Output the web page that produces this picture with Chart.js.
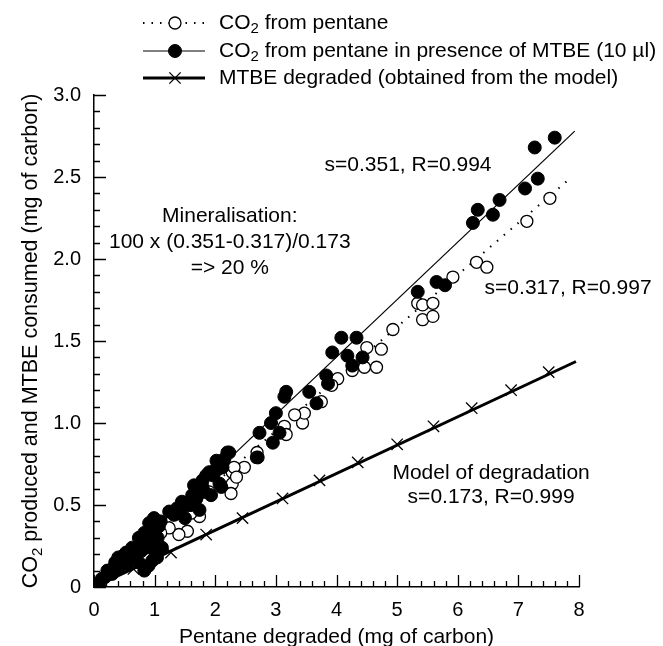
<!DOCTYPE html>
<html>
<head>
<meta charset="utf-8">
<script src="https://cdn.jsdelivr.net/npm/chart.js@4/dist/chart.umd.min.js"></script>
<style>
html,body{margin:0;padding:0;background:#fff;}
</style>
</head>
<body>
<canvas id="chart" width="663" height="646"></canvas>
<script>
// CO2 from pentane (open circles)
var openX = [7.52, 7.14, 6.31, 6.48, 5.92, 5.34, 5.42, 5.59, 5.42, 5.59, 4.93, 4.74, 4.66, 4.46, 4.26, 4.50,
  4.02, 3.92, 3.75, 3.44, 3.47, 3.31, 3.14, 3.17, 2.69, 2.68, 2.48, 2.28, 2.28, 2.26, 2.31, 2.35,
  1.74, 1.54, 1.40, 1.24, 1.60, 1.90, 1.10, 0.95, 0.70, 0.50, 0.30, 0];
var openY = [2.37, 2.23, 1.98, 1.95, 1.89, 1.73, 1.72, 1.73, 1.63, 1.65, 1.57, 1.45, 1.34, 1.34, 1.32, 1.46,
  1.27, 1.23, 1.13, 1.00, 1.06, 1.05, 0.98, 0.93, 0.82, 0.79, 0.73, 0.70, 0.63, 0.57, 0.73, 0.67,
  0.43, 0.34, 0.32, 0.36, 0.45, 0.58, 0.33, 0.30, 0.22, 0.15, 0.10, 0];

// CO2 from pentane in presence of MTBE (filled circles)
var filledX = [7.60, 7.27, 7.32, 7.11, 6.69, 6.33, 6.58, 6.25, 5.65, 5.79, 5.34,
  4.08, 4.33, 3.93, 4.18, 4.43, 4.26, 3.83, 3.86, 3.17, 3.14, 3.55, 3.67, 3.00, 2.92, 3.06, 2.73, 2.95, 2.70,
  2.23, 2.02, 2.12, 1.90, 1.79, 2.07, 2.20, 2.03, 1.85, 2.10, 1.79, 1.69, 1.93, 1.74, 1.37, 1.24,
  0.99, 0.91, 1.07, 0.83, 1.02, 0.74, 0.63, 0.86, 1.12, 0.53, 0.45, 0.83, 0.33, 0.25, 0.13, 0,
  1.04, 0.58, 0.74, 0.96, 1.50, 1.60, 1.45, 0.40, 0.70,
  0.10, 0.18, 0.22, 0.30, 0.35, 0.42, 0.48, 0.55, 0.60, 0.65, 0.78, 0.80, 0.88, 0.90, 0.95, 1.00,
  1.05, 1.10, 1.32, 1.42, 1.55, 1.62, 1.70, 1.82, 1.97, 2.05, 2.15, 1.65];
var filledY = [2.74, 2.68, 2.49, 2.43, 2.36, 2.30, 2.27, 2.22, 1.86, 1.84, 1.80,
  1.52, 1.52, 1.43, 1.41, 1.40, 1.35, 1.29, 1.24, 1.19, 1.16, 1.19, 1.12, 1.06, 1.00, 0.94, 0.94, 0.88, 0.79,
  0.82, 0.77, 0.73, 0.70, 0.65, 0.63, 0.82, 0.73, 0.68, 0.61, 0.61, 0.54, 0.56, 0.47, 0.48, 0.46,
  0.42, 0.39, 0.37, 0.33, 0.29, 0.30, 0.24, 0.24, 0.24, 0.21, 0.16, 0.10, 0.12, 0.085, 0.05, 0,
  0.18, 0.16, 0.15, 0.16, 0.42, 0.50, 0.52, 0.18, 0.20,
  0.03, 0.06, 0.10, 0.08, 0.15, 0.12, 0.19, 0.14, 0.21, 0.17, 0.22, 0.30, 0.27, 0.13, 0.34, 0.22,
  0.30, 0.40, 0.44, 0.48, 0.50, 0.56, 0.60, 0.58, 0.68, 0.72, 0.78, 0.62];

// MTBE degraded (model) crosses
var modelX = [0, 0.65, 1.27, 1.85, 2.45, 3.11, 3.72, 4.35, 5.00, 5.60, 6.23, 6.88, 7.50];
var modelY = [0, 0.11, 0.21, 0.32, 0.42, 0.54, 0.65, 0.76, 0.87, 0.98, 1.09, 1.20, 1.31];

// fitted lines (end points)
var fitOpenX = [0, 7.85], fitOpenY = [0, 2.49];
var fitFilledX = [0, 7.93], fitFilledY = [0, 2.78];
var fitModelX = [0, 7.95], fitModelY = [0, 1.375];

var xTickLabels = ['0', '1', '2', '3', '4', '5', '6', '7', '8'];
var yTickLabels = ['0', '0.5', '1.0', '1.5', '2.0', '2.5', '3.0'];

var legendLabels = ['CO₂ from pentane', 'CO₂ from pentane in presence of MTBE (10 µl)', 'MTBE degraded (obtained from the model)'];

var noteTexts = ['s=0.351, R=0.994', 'Mineralisation:', '100 x (0.351-0.317)/0.173', '=> 20 %',
  's=0.317, R=0.997', 'Model of degradation', 's=0.173, R=0.999'];
var noteX = [5.18, 2.24, 2.24, 2.24, 7.82, 6.55, 6.55];
var noteY = [2.573, 2.26, 2.10, 1.945, 1.823, 0.695, 0.55];

var FONT = '"Liberation Sans", Arial, sans-serif';
var FS = 21;

function pts(xs, ys) {
  return xs.map(function (x, i) { return {x: x, y: ys[i]}; });
}

// draw text, rendering ₂ as a real subscript
function drawSub(ctx, text, x, y, size, align) {
  var parts = text.split('₂');
  var big = size + 'px ' + FONT, small = Math.round(size * 0.7) + 'px ' + FONT;
  var w = 0;
  parts.forEach(function (p, i) {
    ctx.font = big; w += ctx.measureText(p).width;
    if (i < parts.length - 1) { ctx.font = small; w += ctx.measureText('2').width; }
  });
  var cx = align === 'center' ? x - w / 2 : x;
  ctx.textAlign = 'left';
  ctx.textBaseline = 'middle';
  parts.forEach(function (p, i) {
    ctx.font = big; ctx.fillText(p, cx, y); cx += ctx.measureText(p).width;
    if (i < parts.length - 1) {
      ctx.font = small; ctx.fillText('2', cx, y + size * 0.3); cx += ctx.measureText('2').width;
    }
  });
}

function marker(ctx, kind, x, y) {
  ctx.save();
  ctx.strokeStyle = '#000';
  ctx.setLineDash([]);
  if (kind === 'open' || kind === 'filled') {
    ctx.beginPath();
    ctx.arc(x, y, kind === 'open' ? 6 : 6.5, 0, Math.PI * 2);
    ctx.fillStyle = kind === 'open' ? '#fff' : '#000';
    ctx.fill();
    ctx.lineWidth = kind === 'open' ? 1.3 : 1;
    ctx.stroke();
  } else {
    var r = 8 * Math.SQRT1_2;
    ctx.lineWidth = 1.3;
    ctx.beginPath();
    ctx.moveTo(x - r, y - r); ctx.lineTo(x + r, y + r);
    ctx.moveTo(x - r, y + r); ctx.lineTo(x + r, y - r);
    ctx.stroke();
  }
  ctx.restore();
}

var overlay = {
  id: 'overlay',
  afterDraw: function (chart) {
    var ctx = chart.ctx, xs = chart.scales.x, ys = chart.scales.y;
    var area = chart.chartArea;
    ctx.save();
    ctx.strokeStyle = '#000';
    ctx.lineWidth = 1.3;
    // inward ticks
    ctx.beginPath();
    for (var i = 0; i <= 40; i++) {
      var px = Math.round(xs.getPixelForValue(i / 5)) + 0.5;
      var len = i % 5 === 0 ? 12 : 6;
      ctx.moveTo(px, area.bottom); ctx.lineTo(px, area.bottom - len);
    }
    for (var j = 0; j <= 30; j++) {
      var py = Math.round(ys.getPixelForValue(j / 10)) + 0.5;
      var l2 = j % 5 === 0 ? 12 : 6;
      ctx.moveTo(area.left, py); ctx.lineTo(area.left + l2, py);
    }
    ctx.stroke();

    ctx.fillStyle = '#000';
    // y title
    ctx.save();
    ctx.translate(31, 341);
    ctx.rotate(-Math.PI / 2);
    drawSub(ctx, 'CO₂ produced and MTBE consumed (mg of carbon)', 0, 0, 21.5, 'center');
    ctx.restore();

    // notes
    noteTexts.forEach(function (t, k) {
      drawSub(ctx, t, xs.getPixelForValue(noteX[k]), ys.getPixelForValue(noteY[k]), FS, 'center');
    });

    // legend
    var rowY = [23, 51, 78], x0 = 143, x1 = 205, mx = 175;
    ctx.save();
    ctx.lineWidth = 2; ctx.setLineDash([1.5, 7]);
    ctx.beginPath(); ctx.moveTo(x0, rowY[0]); ctx.lineTo(x1, rowY[0]); ctx.stroke();
    ctx.restore();
    marker(ctx, 'open', mx, rowY[0]);
    ctx.lineWidth = 1.2;
    ctx.beginPath(); ctx.moveTo(x0, rowY[1]); ctx.lineTo(x1, rowY[1]); ctx.stroke();
    marker(ctx, 'filled', mx, rowY[1]);
    ctx.lineWidth = 3;
    ctx.beginPath(); ctx.moveTo(x0, rowY[2]); ctx.lineTo(x1, rowY[2]); ctx.stroke();
    marker(ctx, 'cross', mx, rowY[2]);
    legendLabels.forEach(function (t, k) {
      drawSub(ctx, t, 219, rowY[k], FS, 'left');
    });
    ctx.restore();
  }
};

Chart.defaults.font.family = FONT;
Chart.defaults.font.size = 20;
Chart.defaults.color = '#000';

new Chart(document.getElementById('chart'), {
  type: 'scatter',
  data: {
    datasets: [
      {label: 'filled', data: pts(filledX, filledY), pointRadius: 6.5, pointBackgroundColor: '#000', pointBorderColor: '#000', pointBorderWidth: 1},
      {label: 'fit filled', data: pts(fitFilledX, fitFilledY), showLine: true, pointRadius: 0, borderColor: '#000', borderWidth: 1.2},
      {label: 'open', data: pts(openX, openY), pointRadius: 6, pointBackgroundColor: '#fff', pointBorderColor: '#000', pointBorderWidth: 1.3},
      {label: 'fit open', data: pts(fitOpenX, fitOpenY), showLine: true, pointRadius: 0, borderColor: '#000', borderWidth: 2, borderDash: [1.5, 7.5]},
      {label: 'model', data: pts(modelX, modelY), pointStyle: 'crossRot', pointRadius: 8, pointBorderColor: '#000', pointBorderWidth: 1.3},
      {label: 'model line', data: pts(fitModelX, fitModelY), showLine: true, pointRadius: 0, borderColor: '#000', borderWidth: 3}
    ]
  },
  options: {
    responsive: false,
    animation: false,
    layout: {padding: {top: 95, right: 84, left: 0, bottom: 0}},
    plugins: {legend: {display: false}, tooltip: {enabled: false}},
    scales: {
      x: {
        type: 'linear', min: 0, max: 8,
        afterFit: function (s) { s.height = 59; },
        grid: {display: true, drawOnChartArea: false, drawTicks: false},
        border: {display: true, color: '#000', width: 1.5},
        ticks: {stepSize: 1, padding: 11, maxRotation: 0,
          callback: function (v) { return xTickLabels[v]; }},
        title: {display: true, text: 'Pentane degraded (mg of carbon)', font: {size: 21, lineHeight: 1.0}, padding: {top: 0, bottom: -2}}
      },
      y: {
        type: 'linear', min: 0, max: 3,
        afterFit: function (s) { s.width = 94; },
        grid: {display: true, drawOnChartArea: false, drawTicks: false},
        border: {display: true, color: '#000', width: 1.5},
        ticks: {stepSize: 0.5, padding: 13,
          callback: function (v) { return yTickLabels[Math.round(v * 2)]; }}
      }
    }
  },
  plugins: [overlay]
});
</script>
</body>
</html>
